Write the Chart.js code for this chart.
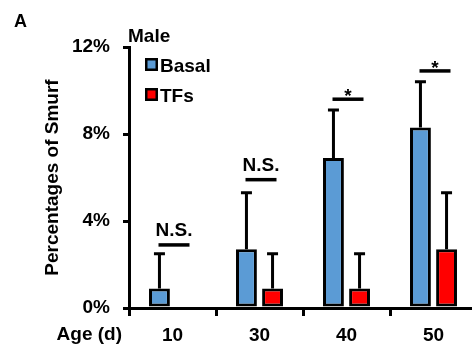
<!DOCTYPE html>
<html>
<head>
<meta charset="utf-8">
<script src="https://cdn.jsdelivr.net/npm/chart.js@4"></script>
<style>
    html, body { margin: 0; padding: 0; background: #ffffff; overflow: hidden; }
</style>
</head>
<body>
<canvas id="smurf-chart" width="477" height="350"></canvas>
<script>
// Smurf percentages by age, male flies

const ages = ['10', '30', '40', '50'];
const basalValues = [0.9, 2.7, 6.9, 8.3];
const basalErrors = [1.6, 2.6, 2.2, 2.1];
const tfsValues = [0, 0.9, 0.9, 2.7];
const tfsErrors = [0, 1.6, 1.6, 2.6];
const sigLevels = [2.9, 5.9, 9.6, 10.9];
const sigLabels = ['N.S.', 'N.S.', '*', '*'];
const yTickValues = [0, 4, 8, 12];

const FONT = '"Liberation Sans", Arial, sans-serif';
const BLUE = '#5B9BD5';
const RED = '#FF0000';

// Draws error bars, significance marks, legend and loose labels
const extras = {
    id: 'extras',
    afterDatasetsDraw(chart) {
        const { ctx, scales: { x, y }, chartArea } = chart;
        const errors = [basalErrors, tfsErrors];
        ctx.save();
        ctx.strokeStyle = '#000';
        ctx.fillStyle = '#000';
        ctx.lineCap = 'butt';

        // Error bars (upper only)
        chart.data.datasets.forEach((ds, di) => {
            const meta = chart.getDatasetMeta(di);
            meta.data.forEach((bar, i) => {
                const err = errors[di][i];
                if (!err) return;
                const top = y.getPixelForValue(ds.data[i] + err);
                ctx.lineWidth = 3;
                ctx.beginPath();
                ctx.moveTo(bar.x, bar.y);
                ctx.lineTo(bar.x, top);
                ctx.moveTo(bar.x - 5.5, top);
                ctx.lineTo(bar.x + 5.5, top);
                ctx.stroke();
            });
        });

        // Significance lines
        ctx.font = 'bold 19px ' + FONT;
        ctx.textAlign = 'center';
        ctx.textBaseline = 'alphabetic';
        sigLevels.forEach((level, i) => {
            const cx = x.getPixelForValue(i) + 1.5;
            const ly = y.getPixelForValue(level);
            ctx.lineWidth = 3.5;
            ctx.beginPath();
            ctx.moveTo(cx - 15.5, ly);
            ctx.lineTo(cx + 15.5, ly);
            ctx.stroke();
            const label = sigLabels[i];
            ctx.fillText(label, cx, label === '*' ? ly + 3 : ly - 9);
        });

        // Legend
        ctx.textAlign = 'left';
        chart.data.datasets.forEach((ds, di) => {
            const cy = chartArea.top + 17.5 + di * 30;
            const bx = chartArea.left + 17;
            ctx.fillStyle = '#000';
            ctx.fillRect(bx - 1, cy - 6.5, 13, 13);
            ctx.fillStyle = ds.backgroundColor;
            ctx.fillRect(bx + 1.5, cy - 4, 8, 8);
            ctx.fillStyle = '#000';
            ctx.fillText(ds.label, bx + 14, cy + 7);
        });

        // Panel letter, group title, x axis caption
        ctx.font = 'bold 18px ' + FONT;
        ctx.fillText('A', 14, 27);
        ctx.font = 'bold 19px ' + FONT;
        ctx.fillText('Male', chartArea.left - 1, 42);
        ctx.textAlign = 'right';
        ctx.fillText('Age (d)', chartArea.left - 7, 340);
        ctx.restore();
    }
};

const ctx = document.getElementById('smurf-chart');

new Chart(ctx, {
    type: 'bar',
    data: {
        labels: ages,
        datasets: [{
            label: 'Basal',
            data: basalValues,
            backgroundColor: BLUE,
            borderColor: '#000000',
            borderWidth: 3,
            borderSkipped: false
        }, {
            label: 'TFs',
            data: tfsValues,
            backgroundColor: RED,
            borderColor: '#000000',
            borderWidth: 3,
            borderSkipped: false
        }]
    },
    options: {
        responsive: false,
        animation: false,
        devicePixelRatio: 1,
        layout: {
            padding: { top: 47, right: 0, left: 0, bottom: 0 }
        },
        datasets: {
            bar: {
                categoryPercentage: 0.6,
                barPercentage: 0.8
            }
        },
        plugins: {
            legend: { display: false },
            tooltip: { enabled: false }
        },
        scales: {
            x: {
                grid: {
                    drawOnChartArea: false,
                    drawTicks: true,
                    tickLength: 8,
                    lineWidth: 3,
                    color: '#000',
                    offset: true
                },
                border: { display: true, width: 3, color: '#000' },
                ticks: {
                    color: '#000',
                    padding: 8,
                    maxRotation: 0,
                    font: { family: FONT, size: 19, weight: 'bold' }
                },
                afterFit(scale) {
                    scale.height = 42;
                }
            },
            y: {
                min: 0,
                max: 12,
                afterBuildTicks(scale) {
                    scale.ticks = yTickValues.map(v => ({ value: v }));
                },
                grid: {
                    drawOnChartArea: false,
                    drawTicks: true,
                    tickLength: 6,
                    lineWidth: 3,
                    color: '#000'
                },
                border: { display: true, width: 3, color: '#000' },
                ticks: {
                    color: '#000',
                    padding: 13,
                    font: { family: FONT, size: 19, weight: 'bold' },
                    callback: function (value) {
                        return value + '%';
                    }
                },
                title: {
                    display: true,
                    text: 'Percentages of Smurf',
                    color: '#000',
                    padding: { top: 41, bottom: 0 },
                    font: { family: FONT, size: 19, weight: 'bold' }
                },
                afterFit(scale) {
                    scale.width = 129;
                }
            }
        }
    },
    plugins: [extras]
});
</script>
</body>
</html>
